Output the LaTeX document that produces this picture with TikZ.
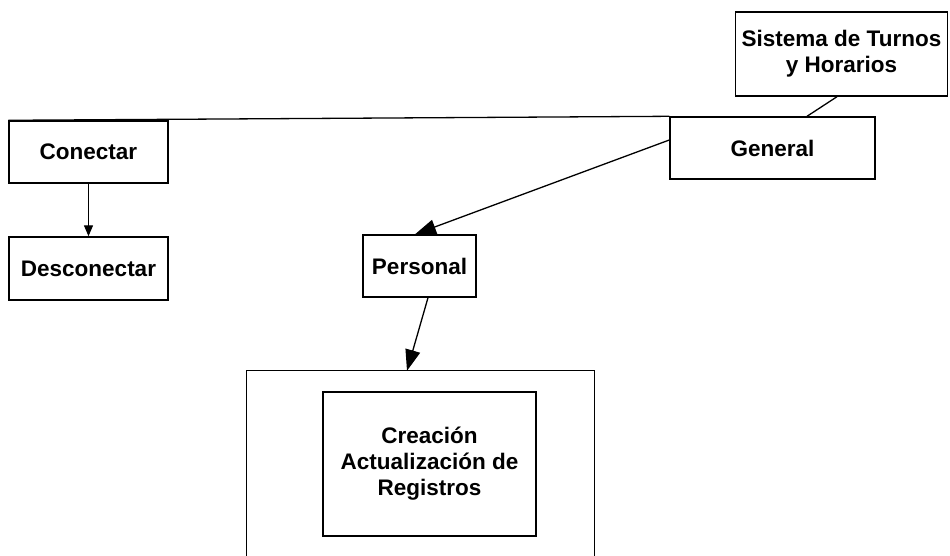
\documentclass[tikz,border=0pt]{standalone}
\usepackage{fontspec}
\setmainfont{Liberation Sans}
\usetikzlibrary{arrows.meta}
\tikzset{
  box/.style={draw, line width=1.4pt, inner sep=0pt, align=center,
    font=\bfseries\fontsize{22.5}{26}\selectfont},
  conn/.style={line width=1.3pt},
  smalltip/.style={-{Triangle[length=11pt,width=9pt]}},
  bigtip/.style={-{Triangle[length=21pt,width=15pt]}}
}
\begin{document}
\begin{tikzpicture}[x=1pt,y=-1pt]
\useasboundingbox (0,0) rectangle (950,556);
\fill[white] (0,0) rectangle (950,556);
% boxes: centre = ((l+r)/2,(t+b)/2)
\node[box, minimum width=212pt, minimum height=84pt] (sis) at (841.5,54) {Sistema de Turnos\\y Horarios};
\node[box, minimum width=205pt, minimum height=62pt] (gen) at (772.5,148) {General};
\node[box, minimum width=159pt, minimum height=62pt] (con) at (88.5,152) {Conectar};
\node[box, minimum width=159pt, minimum height=63pt] (des) at (88.5,268.5) {Desconectar};
\node[box, minimum width=113pt, minimum height=62pt] (per) at (419.5,266) {Personal};
\node[inner sep=0pt, minimum width=347pt, minimum height=190pt] (out) at (420.5,466) {};
\node[box, minimum width=213pt, minimum height=144pt] (reg) at (429.5,464) {Creación\\Actualización de\\Registros};
% outer box (open at the bottom)
\draw[line width=1.1pt] (out.south west) -- (out.north west) -- (out.north east) -- (out.south east);
% connectors
\draw[conn] (con.north west) -- (gen.north west);
\draw[conn] (sis.south) ++(-4.5,0) coordinate (s1) (s1) -- ([xshift=34.5pt]gen.north);
\draw[conn, smalltip] (con.south) -- (des.north);
\draw[conn, bigtip] ([yshift=8pt]gen.west) -- ([xshift=-4.5pt]per.north);
\draw[conn, bigtip] ([xshift=8.5pt]per.south) -- ([xshift=-13.5pt]out.north);
\end{tikzpicture}
\end{document}
